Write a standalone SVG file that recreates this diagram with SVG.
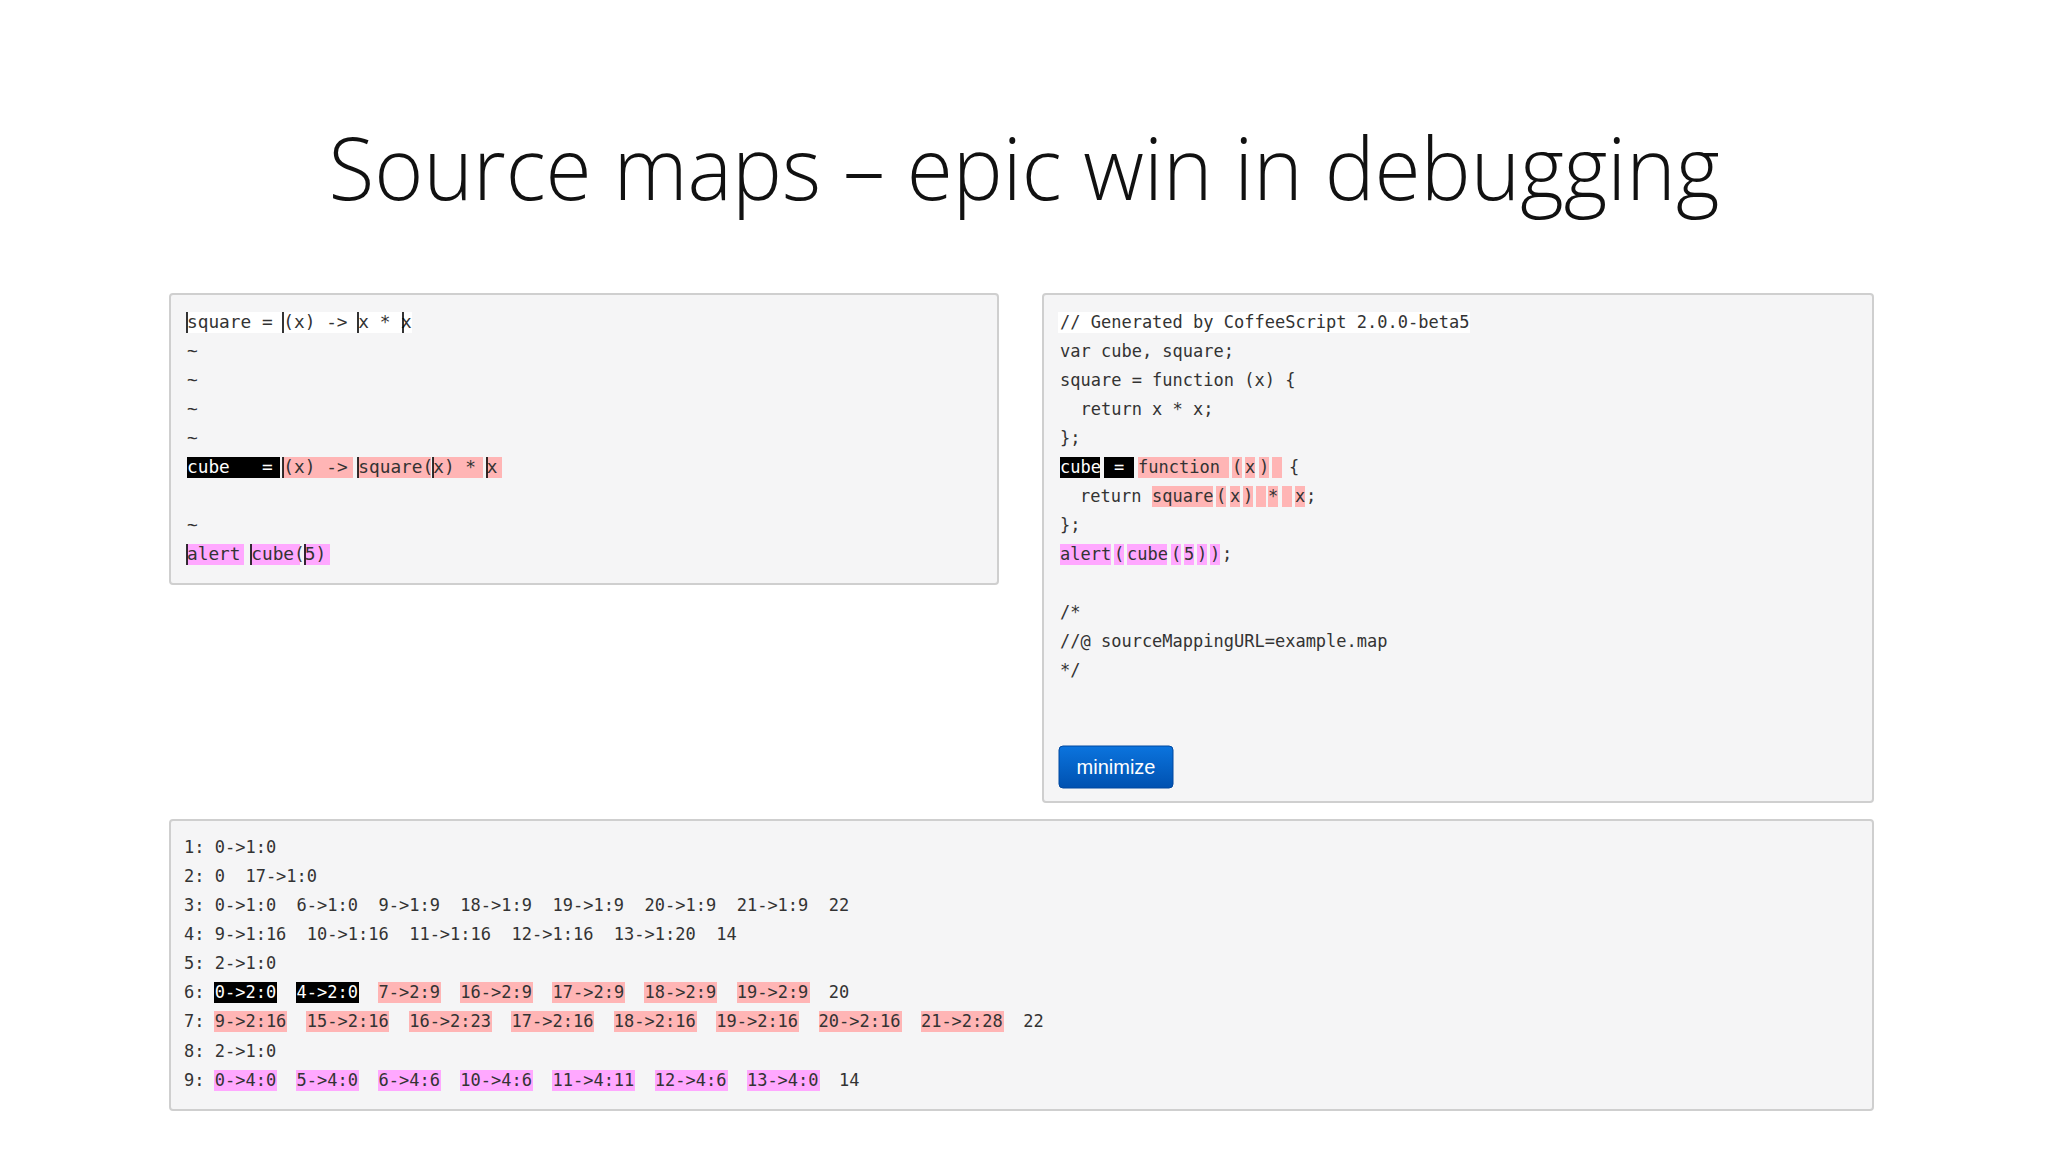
<svg xmlns="http://www.w3.org/2000/svg" width="2048" height="1152" viewBox="0 0 2048 1152">
<style>
.panel{fill:#f5f5f6;stroke:#cfcfcf;stroke-width:2}
.mL{font-family:"DejaVu Sans Mono",monospace;font-size:17.8px;fill:#333;white-space:pre}
.mR{font-family:"DejaVu Sans Mono",monospace;font-size:17px;fill:#333;white-space:pre}
.mL text,.mR text{white-space:pre}
.w{fill:#fff}
.k{fill:#000}
.p{fill:#ffb5b5}
.m{fill:#ffa8ff}
.bar{stroke:#000;stroke-width:1.6}
</style>
<rect width="2048" height="1152" fill="#fff"/>
<text x="1024" y="200" text-anchor="middle" font-family="'Open Sans',sans-serif" font-weight="300" font-size="86" fill="#111" textLength="1391" lengthAdjust="spacingAndGlyphs">Source maps – epic win in debugging</text>

<g id="left-panel">
<rect class="panel" x="170" y="294" width="828" height="290" rx="3"/>
<rect class="w" x="187" y="312" width="225" height="21"/>
<rect class="k" x="187" y="457" width="93" height="21"/>
<rect class="p" x="283" y="457" width="70" height="21"/>
<rect class="p" x="358" y="457" width="73" height="21"/>
<rect class="p" x="433" y="457" width="50" height="21"/>
<rect class="p" x="486" y="457" width="16" height="21"/>
<rect class="m" x="187" y="544" width="57" height="21"/>
<rect class="m" x="251" y="544" width="49" height="21"/>
<rect class="m" x="304" y="544" width="26" height="21"/>
<g class="mL" xml:space="preserve">
<text x="187" y="328">square = (x) -&gt; x * x</text>
<text x="187" y="357">~</text>
<text x="187" y="386">~</text>
<text x="187" y="415">~</text>
<text x="187" y="444">~</text>
<text x="187" y="473"><tspan fill="#fff">cube   = </tspan>(x) -&gt; square(x) * x</text>
<text x="187" y="531">~</text>
<text x="187" y="560">alert cube(5)</text>
</g>
<g class="bar">
<line x1="187" y1="312" x2="187" y2="333"/><line x1="283" y1="312" x2="283" y2="333"/><line x1="358" y1="312" x2="358" y2="333"/><line x1="403" y1="312" x2="403" y2="333"/>
<line x1="283" y1="457" x2="283" y2="478"/><line x1="358" y1="457" x2="358" y2="478"/><line x1="433" y1="457" x2="433" y2="478"/><line x1="487" y1="457" x2="487" y2="478"/>
<line x1="187" y1="544" x2="187" y2="565"/><line x1="251" y1="544" x2="251" y2="565"/><line x1="305" y1="544" x2="305" y2="565"/>
</g>
</g>

<g id="right-panel">
<rect class="panel" x="1043" y="294" width="830" height="508" rx="3"/>
<rect class="w" x="1058" y="312" width="412" height="21"/>
<rect class="k" x="1060" y="457" width="40" height="21"/>
<rect class="k" x="1104" y="457" width="30" height="21"/>
<rect class="p" x="1138" y="457" width="91" height="21"/>
<rect class="p" x="1232" y="457" width="10" height="21"/>
<rect class="p" x="1245" y="457" width="10" height="21"/>
<rect class="p" x="1259" y="457" width="10" height="21"/>
<rect class="p" x="1272" y="457" width="10" height="21"/>
<rect class="p" x="1152" y="486" width="61" height="21"/>
<rect class="p" x="1216" y="486" width="10" height="21"/>
<rect class="p" x="1230" y="486" width="10" height="21"/>
<rect class="p" x="1243" y="486" width="10" height="21"/>
<rect class="p" x="1256" y="486" width="10" height="21"/>
<rect class="p" x="1268" y="486" width="10" height="21"/>
<rect class="p" x="1282" y="486" width="10" height="21"/>
<rect class="p" x="1295" y="486" width="10" height="21"/>
<rect class="m" x="1060" y="544" width="51" height="21"/>
<rect class="m" x="1114" y="544" width="10" height="21"/>
<rect class="m" x="1127" y="544" width="40" height="21"/>
<rect class="m" x="1171" y="544" width="10" height="21"/>
<rect class="m" x="1184" y="544" width="10" height="21"/>
<rect class="m" x="1197" y="544" width="10" height="21"/>
<rect class="m" x="1210" y="544" width="10" height="21"/>
<g class="mR" xml:space="preserve">
<text x="1060" y="328">// Generated by CoffeeScript 2.0.0-beta5</text>
<text x="1060" y="357">var cube, square;</text>
<text x="1060" y="386">square = function (x) {</text>
<text x="1060" y="415">  return x * x;</text>
<text x="1060" y="444">};</text>
<text y="473"><tspan x="1060" fill="#fff">cube</tspan><tspan x="1114" fill="#fff">=</tspan><tspan x="1138">function</tspan><tspan x="1232">(</tspan><tspan x="1245">x</tspan><tspan x="1259">)</tspan><tspan x="1289">{</tspan></text>
<text y="502"><tspan x="1080">return</tspan><tspan x="1152">square</tspan><tspan x="1216">(</tspan><tspan x="1230">x</tspan><tspan x="1243">)</tspan><tspan x="1268">*</tspan><tspan x="1295">x</tspan><tspan x="1306">;</tspan></text>
<text x="1060" y="531">};</text>
<text y="560"><tspan x="1060">alert</tspan><tspan x="1114">(</tspan><tspan x="1127">cube</tspan><tspan x="1171">(</tspan><tspan x="1184">5</tspan><tspan x="1197">)</tspan><tspan x="1210">)</tspan><tspan x="1222">;</tspan></text>
<text x="1060" y="618">/*</text>
<text x="1060" y="647">//@ sourceMappingURL=example.map</text>
<text x="1060" y="676">*/</text>
</g>
<g id="minimize">
<defs><linearGradient id="bg" x1="0" y1="0" x2="0" y2="1"><stop offset="0" stop-color="#0b74de"/><stop offset="1" stop-color="#0051b0"/></linearGradient></defs>
<rect x="1059" y="746" width="114" height="42" rx="4" fill="url(#bg)" stroke="#0048a0"/>
<text x="1116" y="774" text-anchor="middle" font-family="'Liberation Sans',sans-serif" font-size="20" fill="#fff">minimize</text>
</g>
</g>

<g id="mappings-panel">
<rect class="panel" x="170" y="820" width="1703" height="290" rx="3"/>
<g transform="translate(184,0)">
<rect class="k" x="30" y="982" width="63" height="21"/>
<rect class="k" x="112" y="982" width="63" height="21"/>
<rect class="p" x="194" y="982" width="63" height="21"/>
<rect class="p" x="276" y="982" width="73" height="21"/>
<rect class="p" x="368" y="982" width="73" height="21"/>
<rect class="p" x="460" y="982" width="73" height="21"/>
<rect class="p" x="553" y="982" width="73" height="21"/>
<rect class="p" x="30" y="1011" width="73" height="21"/>
<rect class="p" x="122" y="1011" width="83" height="21"/>
<rect class="p" x="225" y="1011" width="83" height="21"/>
<rect class="p" x="327" y="1011" width="83" height="21"/>
<rect class="p" x="430" y="1011" width="83" height="21"/>
<rect class="p" x="532" y="1011" width="83" height="21"/>
<rect class="p" x="635" y="1011" width="83" height="21"/>
<rect class="p" x="737" y="1011" width="83" height="21"/>
<rect class="m" x="30" y="1070" width="63" height="21"/>
<rect class="m" x="112" y="1070" width="63" height="21"/>
<rect class="m" x="194" y="1070" width="63" height="21"/>
<rect class="m" x="276" y="1070" width="73" height="21"/>
<rect class="m" x="368" y="1070" width="83" height="21"/>
<rect class="m" x="471" y="1070" width="73" height="21"/>
<rect class="m" x="563" y="1070" width="73" height="21"/>
</g>
<g class="mR" xml:space="preserve">
<text x="184" y="853">1: 0-&gt;1:0</text>
<text x="184" y="882">2: 0  17-&gt;1:0</text>
<text x="184" y="911">3: 0-&gt;1:0  6-&gt;1:0  9-&gt;1:9  18-&gt;1:9  19-&gt;1:9  20-&gt;1:9  21-&gt;1:9  22</text>
<text x="184" y="940">4: 9-&gt;1:16  10-&gt;1:16  11-&gt;1:16  12-&gt;1:16  13-&gt;1:20  14</text>
<text x="184" y="969">5: 2-&gt;1:0</text>
<text x="184" y="998">6: <tspan fill="#fff">0-&gt;2:0  4-&gt;2:0</tspan>  7-&gt;2:9  16-&gt;2:9  17-&gt;2:9  18-&gt;2:9  19-&gt;2:9  20</text>
<text x="184" y="1027">7: 9-&gt;2:16  15-&gt;2:16  16-&gt;2:23  17-&gt;2:16  18-&gt;2:16  19-&gt;2:16  20-&gt;2:16  21-&gt;2:28  22</text>
<text x="184" y="1057">8: 2-&gt;1:0</text>
<text x="184" y="1086">9: 0-&gt;4:0  5-&gt;4:0  6-&gt;4:6  10-&gt;4:6  11-&gt;4:11  12-&gt;4:6  13-&gt;4:0  14</text>
</g>
</g>
</svg>
